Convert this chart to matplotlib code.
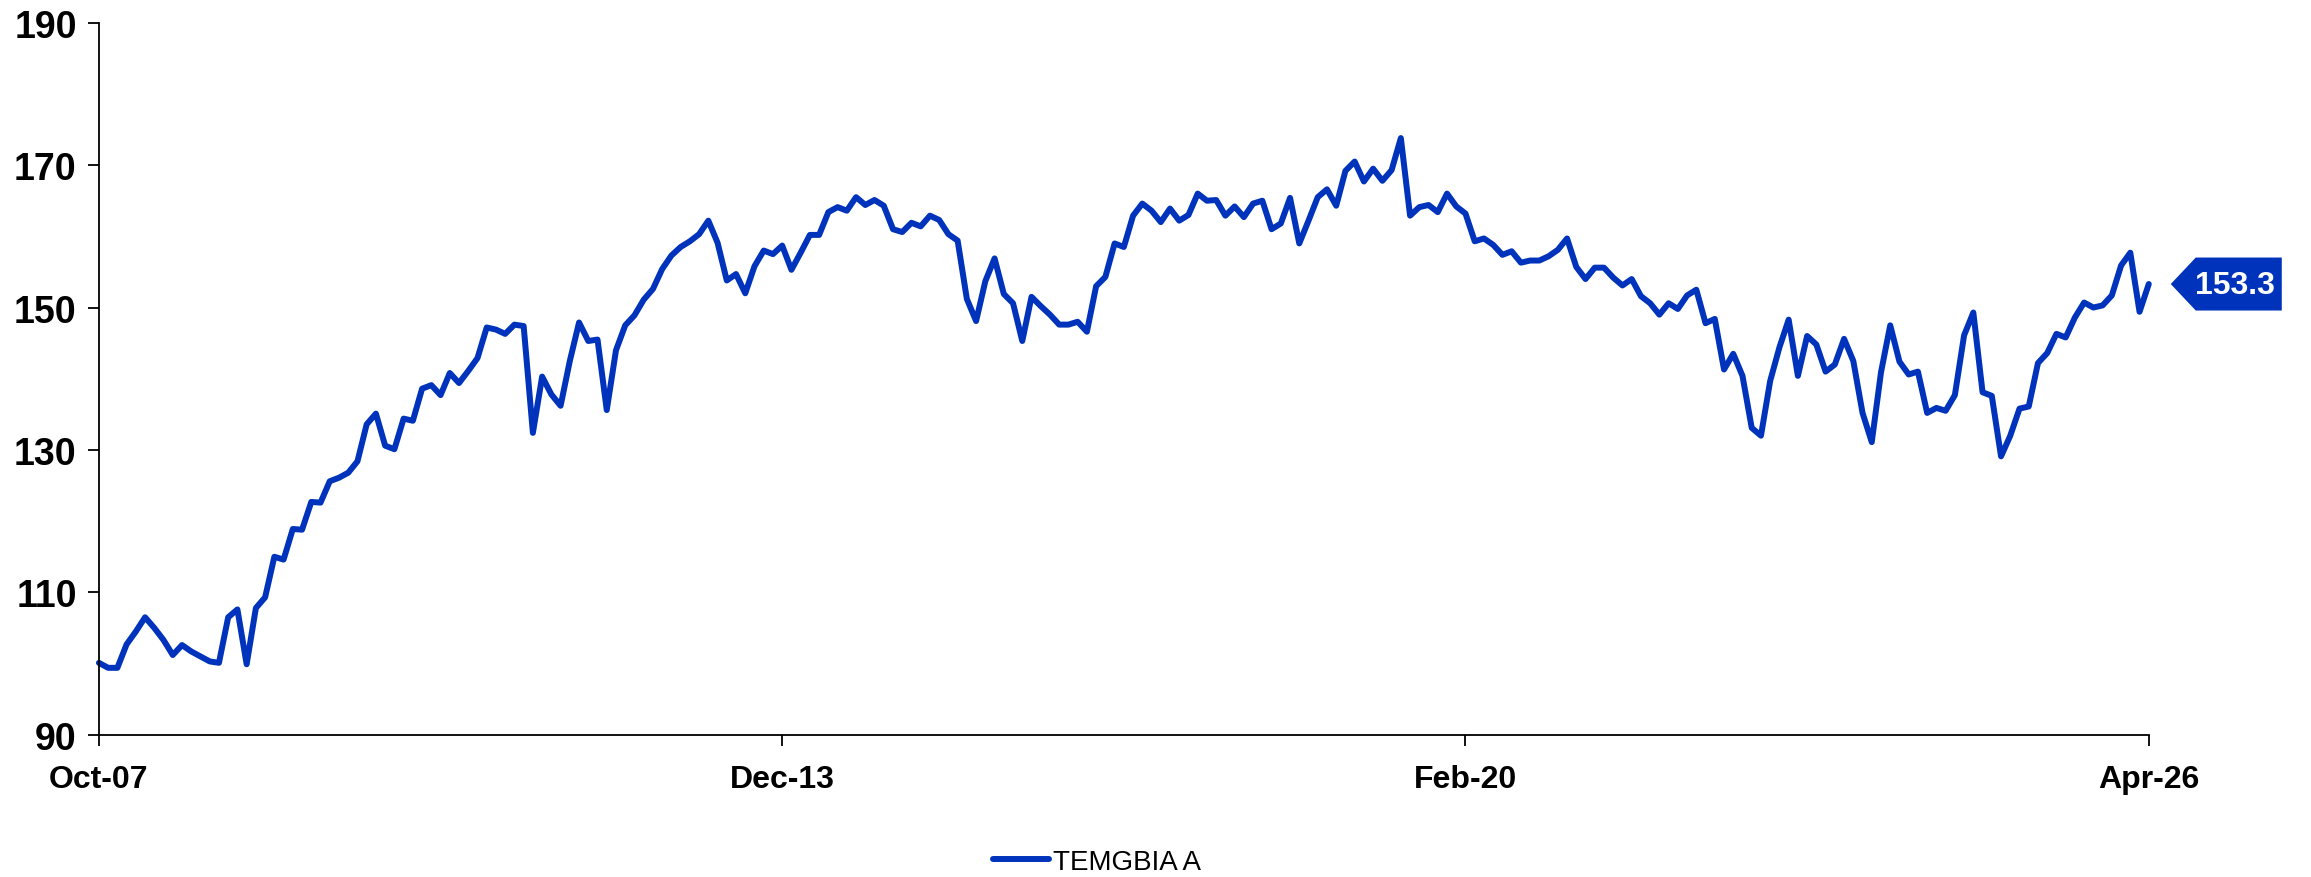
import numpy as np
import matplotlib
matplotlib.use("Agg")
import matplotlib.pyplot as plt
from matplotlib.patches import Polygon
from matplotlib.transforms import ScaledTranslation

# monthly index values, Oct-07 .. Apr-26
values = [
    100.1, 99.4, 99.4, 102.7, 104.5, 106.5, 105.0, 103.3, 101.2, 102.6,
    101.7, 101.0, 100.3, 100.1, 106.5, 107.6, 99.9, 107.8, 109.3, 115.0,
    114.6, 118.9, 118.8, 122.7, 122.6, 125.6, 126.1, 126.8, 128.4, 133.6,
    135.1, 130.6, 130.1, 134.4, 134.1, 138.6, 139.1, 137.7, 140.8, 139.4,
    141.1, 142.9, 147.2, 146.9, 146.3, 147.6, 147.4, 132.4, 140.3, 137.8,
    136.2, 142.5, 147.9, 145.3, 145.5, 135.6, 144.0, 147.5, 148.9, 151.1,
    152.6, 155.4, 157.3, 158.5, 159.3, 160.3, 162.2, 159.1, 153.8, 154.7,
    152.0, 155.8, 158.0, 157.5, 158.7, 155.3, 157.7, 160.2, 160.2, 163.4,
    164.1, 163.6, 165.5, 164.4, 165.1, 164.3, 161.0, 160.6, 161.9, 161.4,
    162.9, 162.3, 160.3, 159.4, 151.2, 148.1, 153.7, 156.9, 151.9, 150.6,
    145.3, 151.5, 150.2, 149.0, 147.6, 147.6, 148.0, 146.6, 153.0, 154.3,
    159.0, 158.5, 162.9, 164.6, 163.6, 162.0, 163.9, 162.2, 163.0, 166.0,
    165.0, 165.1, 162.9, 164.2, 162.7, 164.6, 165.0, 161.0, 161.8, 165.4,
    159.0, 162.2, 165.5, 166.6, 164.3, 169.2, 170.5, 167.7, 169.5, 167.8,
    169.3, 173.8, 162.9, 164.1, 164.4, 163.4, 166.0, 164.2, 163.2, 159.3,
    159.7, 158.8, 157.4, 157.9, 156.3, 156.6, 156.6, 157.2, 158.1, 159.7,
    155.7, 154.0, 155.6, 155.6, 154.2, 153.1, 154.0, 151.6, 150.6, 149.0,
    150.6, 149.8, 151.7, 152.5, 147.8, 148.4, 141.3, 143.5, 140.4, 133.1,
    132.0, 139.7, 144.4, 148.3, 140.4, 146.0, 144.8, 141.0, 142.0, 145.6,
    142.5, 135.2, 131.1, 140.9, 147.5, 142.4, 140.6, 141.0, 135.2, 135.9,
    135.5, 137.7, 146.1, 149.3, 138.1, 137.6, 129.1, 132.0, 135.8, 136.1,
    142.2, 143.6, 146.3, 145.8, 148.6, 150.7, 150.0, 150.3, 151.7, 155.9,
    157.7, 149.4, 153.3,
]
tick_pos = [0, 74, 148, 222]
tick_labels = ["Oct-07", "Dec-13", "Feb-20", "Apr-26"]
y_ticks = [90, 110, 130, 150, 170, 190]
series_name = "TEMGBIA A"

blue = "#0033bb"
plt.rcParams["font.family"] = ["Liberation Sans", "DejaVu Sans"]

fig = plt.figure(figsize=(23.11, 8.78), dpi=100)
ax = fig.add_axes([0.0428, 0.162, 0.887, 0.811])

x = np.arange(len(values))
ax.plot(x, values, color=blue, lw=4.3, solid_joinstyle="round",
        solid_capstyle="round", label=series_name, clip_on=False)

ax.set_xlim(0, len(values) - 1)
ax.set_ylim(90, 190)
ax.set_yticks(y_ticks)
ax.set_xticks(tick_pos)
ax.set_xticklabels(tick_labels)

for s in ["top", "right"]:
    ax.spines[s].set_visible(False)
for s in ["left", "bottom"]:
    ax.spines[s].set_linewidth(1.3)
    ax.spines[s].set_color("black")

ax.tick_params(axis="both", direction="out", length=8, width=1.3, colors="black")
ax.tick_params(axis="x", pad=13, labelsize=23)
ax.tick_params(axis="y", pad=8, labelsize=27)
for lbl in ax.get_xticklabels() + ax.get_yticklabels():
    lbl.set_fontweight("bold")

# last value tag
xl, yl = x[-1], values[-1]
tr = fig.dpi_scale_trans + ScaledTranslation(xl, yl, ax.transData)
tag = Polygon([(0.22, 0), (0.47, 0.265), (1.33, 0.265), (1.33, -0.265), (0.47, -0.265)],
              closed=True, facecolor=blue, edgecolor="none",
              transform=tr, clip_on=False)
ax.add_patch(tag)
ax.annotate(f"{yl:.1f}", xy=(xl, yl), xytext=(0.86 * 72, -1), textcoords="offset points",
            ha="center", va="center", color="white", fontsize=23, fontweight="bold")

fig.legend(loc="center", bbox_to_anchor=(0.4747, 0.017), frameon=False,
           fontsize=20, handlelength=2.0, handletextpad=0.15)

fig.savefig("out.png", dpi=100)
